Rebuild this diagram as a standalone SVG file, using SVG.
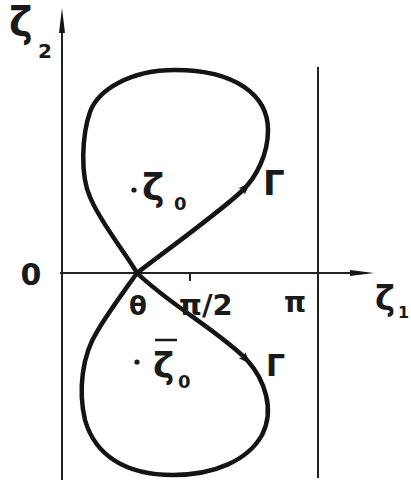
<svg xmlns="http://www.w3.org/2000/svg" width="411" height="490" viewBox="0 0 411 490">
<style>
.ax{stroke:#222;stroke-width:2;fill:none}
.cv{stroke:#141414;stroke-width:4.5;fill:none;stroke-linecap:round;stroke-linejoin:round}
.t{font-family:"DejaVu Sans","Liberation Sans",sans-serif;font-weight:bold;fill:#1a1a1a}
.ah{fill:#141414}
</style>
<defs>
<path id="head" d="M0,0 L-12,-4.5 L-9,0 L-12,4.5 Z"/>
</defs>
<rect width="411" height="490" fill="#fff"/>
<g id="axes">
<line class="ax" x1="62" y1="480" x2="62" y2="20"/>
<path class="ah" d="M62,8 L65,33 L59,33 Z"/>
<line class="ax" x1="60" y1="273" x2="360" y2="273"/>
<path class="ah" d="M374,273 L350,276 L350,270 Z"/>
<line class="ax" x1="318" y1="67" x2="318" y2="478"/>
<line class="ax" x1="190" y1="273" x2="190" y2="281"/>
</g>
<g id="curve">
<path class="cv" d="M137,273 C160,255 220,212 243,190 C256,177 268,155 268,130 C268,95 235,70 175,70 C130,70 98,90 90,112 C82,135 80,175 90,197 C100,222 125,252 137,273 Z"/>
<path class="cv" d="M137,273 C170,305 220,332 247,360 C265,380 275,410 262,435 C248,460 215,475 173,475 C125,475 95,455 85,420 C78,390 82,355 98,330 C110,310 125,290 137,273 Z"/>
<use href="#head" class="ah" transform="translate(250,183) rotate(-45)"/>
<use href="#head" class="ah" transform="translate(250,364) rotate(48)"/>
</g>
<g id="labels">
<text class="t" x="9" y="36" font-size="40">ζ</text>
<text class="t" x="38" y="58" font-size="20">2</text>
<text class="t" x="31" y="285" font-size="30" text-anchor="middle" font-family="Liberation Sans">0</text>
<text class="t" x="138" y="315" font-size="26" text-anchor="middle">θ</text>
<text class="t" x="179" y="315" font-size="29">π/2</text>
<text class="t" x="284" y="312" font-size="28">π</text>
<text class="t" x="375" y="310" font-size="34">ζ</text>
<text class="t" x="398" y="318" font-size="16">1</text>
</g>
<g id="z0">
<circle cx="134" cy="190" r="2.6" fill="#1a1a1a"/>
<text class="t" x="142" y="200" font-size="38">ζ</text>
<text class="t" x="174" y="210" font-size="18">0</text>
</g>
<g id="z0bar">
<circle cx="137" cy="362" r="2.6" fill="#1a1a1a"/>
<line x1="155" y1="340" x2="177" y2="340" stroke="#1a1a1a" stroke-width="2.5"/>
<text class="t" x="153" y="378" font-size="36">ζ</text>
<text class="t" x="178" y="388" font-size="18">0</text>
</g>
<g id="gamma">
<text class="t" x="263" y="195" font-size="34" font-family="Liberation Sans">Γ</text>
<text class="t" x="266" y="376" font-size="30" font-family="Liberation Sans">Γ</text>
</g>
</svg>
